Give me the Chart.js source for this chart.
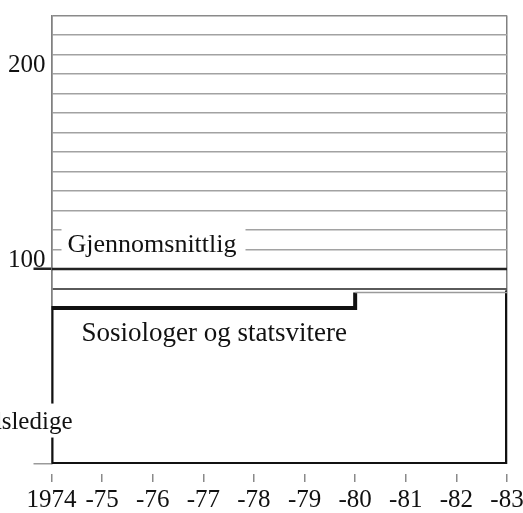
<!DOCTYPE html>
<html lang="no">
<head>
<meta charset="utf-8">
<title>Sosiologer og statsvitere</title>
<script src="https://cdn.jsdelivr.net/npm/chart.js@4.4.1/dist/chart.umd.min.js"></script>
<style>
    html, body { margin: 0; padding: 0; background: #fff; }
    #wrap { width: 523px; height: 513px; }
</style>
</head>
<body>
<div id="wrap"><canvas id="chart" width="523" height="513"></canvas></div>
<script>
// Years on the x axis and their printed labels
const years = [1974, 1975, 1976, 1977, 1978, 1979, 1980, 1981, 1982, 1983];
const yearLabels = ["1974", "-75", "-76", "-77", "-78", "-79", "-80", "-81", "-82", "-83"];

// Index values (1974 = 100)
const gjennomsnitt = [100, 100, 100, 100, 100, 100, 100, 100, 100, 100];
const sosiologer = [80, 80, 80, 80, 80, 80, 88, 88, 88, 88];

// Arbeidsledige drawn as a path of (year, value) points
const ledigeAar = [1974, 1974, 1983, 1983];
const ledigeVerdi = [80, 0, 0, 88];

// Labelled y ticks
const yLabels = [100, 200];

const SERIF = "'Liberation Serif', 'DejaVu Serif', serif";
const INK = "#111";

// Text labels next to the lines, white box behind where they cover lines
const lineLabels = {
    id: "lineLabels",
    afterDatasetsDraw(chart) {
        const { ctx, scales } = chart;
        const xs = scales.x;
        const ys = scales.y;
        const x0 = xs.getPixelForValue(1974);

        ctx.save();
        ctx.font = "26px " + SERIF;
        ctx.textBaseline = "alphabetic";

        // Gjennomsnittlig
        ctx.fillStyle = "#fff";
        ctx.fillRect(x0 + 10, ys.getPixelForValue(120) - 7, 184, 39);
        ctx.fillStyle = INK;
        ctx.textAlign = "left";
        ctx.fillText("Gjennomsnittlig", x0 + 16, ys.getPixelForValue(110) + 2);

        // Sosiologer og statsvitere
        ctx.font = "27px " + SERIF;
        ctx.fillText("Sosiologer og statsvitere", x0 + 30, ys.getPixelForValue(80) + 33);

        // Arbeidsledige (runs off the left edge)
        ctx.fillStyle = "#fff";
        ctx.fillRect(0, ys.getPixelForValue(31), x0 + 24, 34);
        ctx.fillStyle = INK;
        ctx.font = "25px " + SERIF;
        ctx.textAlign = "right";
        ctx.fillText("Arbeidsledige", x0 + 21, ys.getPixelForValue(18));

        ctx.restore();
    },
};

new Chart(document.getElementById("chart"), {
    type: "line",
    data: {
        datasets: [
            {
                label: "Gjennomsnittlig",
                data: years.map((y, i) => ({ x: y, y: gjennomsnitt[i] })),
                borderColor: "#222",
                borderWidth: 2.5,
                pointRadius: 0,
                tension: 0,
            },
            {
                label: "Sosiologer og statsvitere",
                data: years.map((y, i) => ({ x: y, y: sosiologer[i] })),
                borderColor: "#111",
                borderWidth: 4,
                stepped: "before",
                pointRadius: 0,
                borderCapStyle: "butt",
                borderJoinStyle: "miter",
                segment: {
                    borderWidth: (c) => (c.p0.parsed.x >= 1980 ? 1.5 : 4),
                    borderColor: (c) => (c.p0.parsed.x >= 1980 ? "#9a9a9a" : "#111"),
                },
            },
            {
                label: "Arbeidsledige",
                data: ledigeAar.map((y, i) => ({ x: y, y: ledigeVerdi[i] })),
                borderColor: "#111",
                borderWidth: 4,
                pointRadius: 0,
                borderCapStyle: "square",
                borderJoinStyle: "miter",
                tension: 0,
            },
        ],
    },
    options: {
        responsive: false,
        animation: false,
        events: [],
        layout: { padding: { top: 15.5, right: 16, left: 0, bottom: 0 } },
        plugins: {
            legend: { display: false },
            tooltip: { enabled: false },
            title: { display: false },
        },
        scales: {
            x: {
                type: "linear",
                min: 1974,
                max: 1983,
                border: { display: false },
                grid: {
                    color: (c) =>
                        c.tick && (c.tick.value === 1974 || c.tick.value === 1983)
                            ? "#808080"
                            : "rgba(0,0,0,0)",
                    lineWidth: 1.5,
                    tickColor: "#8a8a8a",
                    tickWidth: 1.5,
                    tickLength: 18,
                    tickBorderDash: [0, 10, 8, 40],
                },
                ticks: {
                    stepSize: 1,
                    autoSkip: false,
                    maxRotation: 0,
                    padding: 3,
                    color: INK,
                    font: { family: SERIF, size: 25 },
                    callback: (v) => {
                        const i = years.indexOf(v);
                        return i >= 0 ? yearLabels[i] : null;
                    },
                },
                afterFit: (scale) => {
                    scale.height = 49;
                    scale.paddingLeft = 0;
                    scale.paddingRight = 0;
                },
            },
            y: {
                min: 0,
                max: 230,
                border: { display: true, color: "#808080", width: 1.5 },
                grid: {
                    // ruled lines only from 90 and up
                    color: (c) => {
                        const v = c.tick ? c.tick.value : 0;
                        if (v < 90) return "rgba(0,0,0,0)";
                        if (v === 90) return "#5a5a5a";
                        if (v === 230) return "#8a8a8a";
                        return "#a2a2a2";
                    },
                    lineWidth: (c) => (c.tick && c.tick.value === 90 ? 2 : 1.5),
                    tickColor: (c) => {
                        const v = c.tick ? c.tick.value : -1;
                        if (v === 100) return "#222";
                        if (v === 0) return "#9a9a9a";
                        return "rgba(0,0,0,0)";
                    },
                    tickWidth: (c) => (c.tick && c.tick.value === 100 ? 2.5 : 1.5),
                    tickLength: 18,
                },
                ticks: {
                    stepSize: 10,
                    maxTicksLimit: 30,
                    autoSkip: false,
                    padding: -12,
                    labelOffset: -9,
                    color: INK,
                    font: { family: SERIF, size: 25 },
                    callback: (v) => (yLabels.includes(v) ? String(v) : ""),
                },
                afterFit: (scale) => {
                    scale.width = 51.5;
                    scale.paddingTop = 0;
                    scale.paddingBottom = 0;
                },
            },
        },
    },
    plugins: [lineLabels],
});
</script>
</body>
</html>
